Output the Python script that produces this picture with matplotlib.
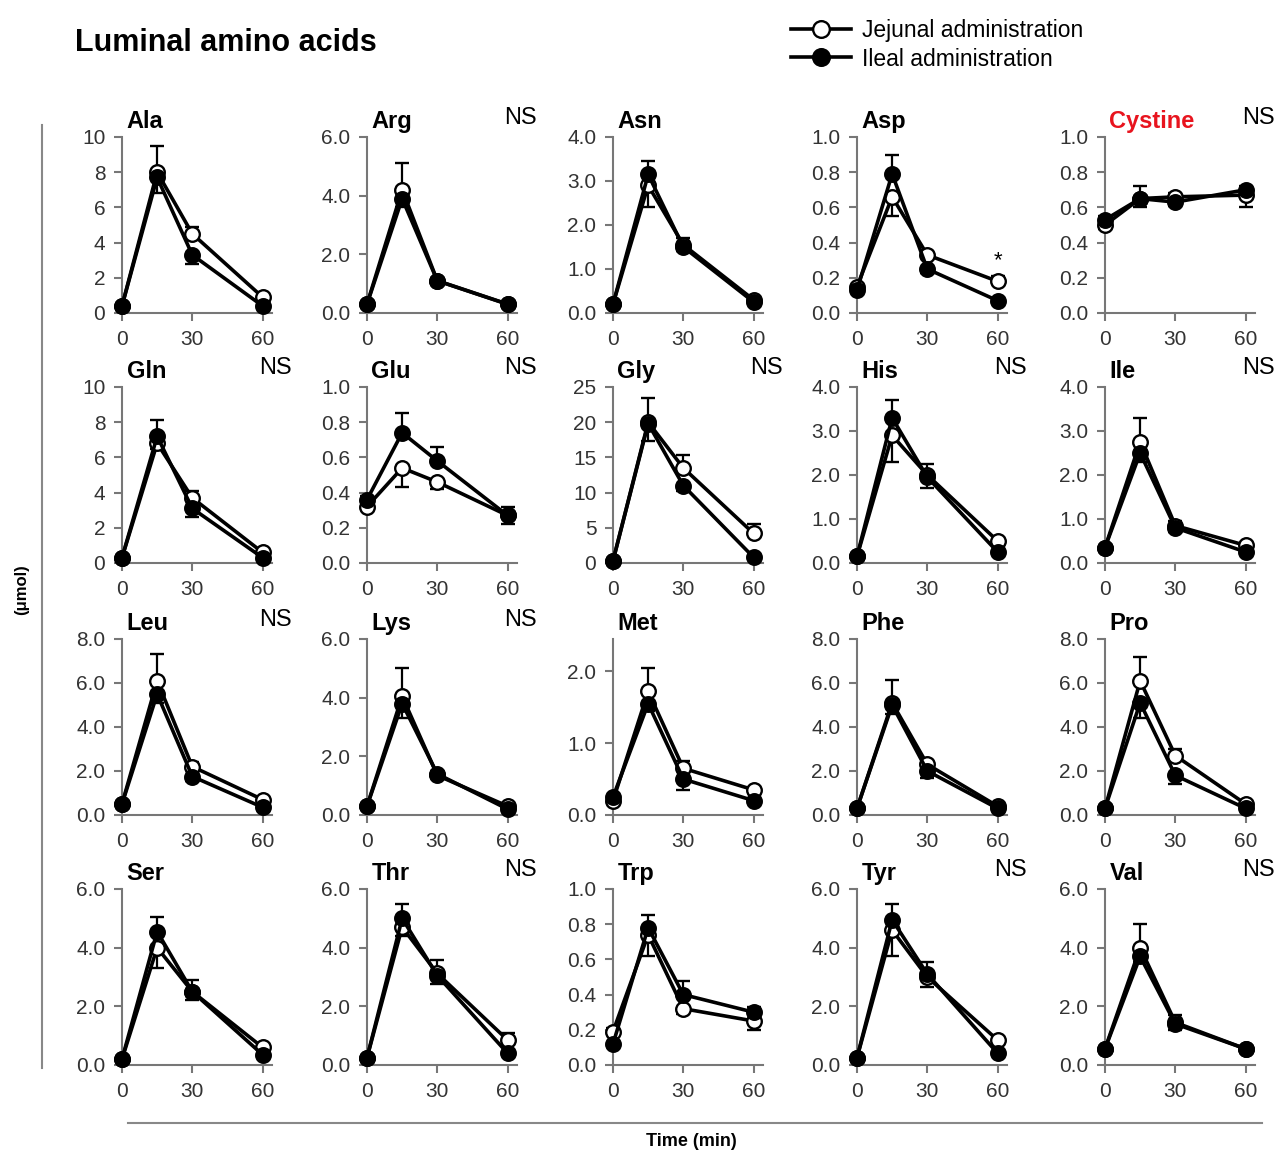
import numpy as np
import matplotlib
matplotlib.use("Agg")
import matplotlib.pyplot as plt
from matplotlib.lines import Line2D

plt.rcParams['font.family'] = ['Liberation Sans', 'DejaVu Sans']

#%% data

times = [0, 15, 30, 60]

names = ["Ala", "Arg", "Asn", "Asp", "Cystine",
         "Gln", "Glu", "Gly", "His", "Ile",
         "Leu", "Lys", "Met", "Phe", "Pro",
         "Ser", "Thr", "Trp", "Tyr", "Val"]

# jejunal administration (open circles)
jej = [[0.4, 8.0, 4.5, 0.9], [0.3, 4.2, 1.1, 0.3], [0.2, 2.9, 1.55, 0.3], [0.15, 0.66, 0.33, 0.18], [0.50, 0.65, 0.66, 0.67],
       [0.3, 6.8, 3.7, 0.6], [0.32, 0.54, 0.46, 0.27], [0.3, 20.0, 13.5, 4.2], [0.15, 2.9, 2.0, 0.5], [0.35, 2.75, 0.85, 0.4],
       [0.5, 6.1, 2.2, 0.7], [0.3, 4.05, 1.35, 0.3], [0.2, 1.72, 0.65, 0.35], [0.3, 5.1, 2.3, 0.4], [0.3, 6.1, 2.7, 0.5],
       [0.2, 4.0, 2.5, 0.6], [0.25, 4.7, 3.12, 0.85], [0.19, 0.74, 0.32, 0.25], [0.25, 4.6, 3.0, 0.85], [0.55, 4.0, 1.45, 0.55]]

# ileal administration (filled circles)
ile = [[0.4, 7.7, 3.3, 0.4], [0.3, 3.9, 1.1, 0.3], [0.2, 3.15, 1.5, 0.25], [0.13, 0.79, 0.25, 0.07], [0.53, 0.65, 0.63, 0.70],
       [0.3, 7.2, 3.1, 0.3], [0.36, 0.74, 0.58, 0.27], [0.3, 19.8, 11.0, 0.8], [0.15, 3.3, 1.95, 0.25], [0.35, 2.5, 0.8, 0.25],
       [0.5, 5.5, 1.75, 0.35], [0.3, 3.8, 1.4, 0.2], [0.25, 1.55, 0.5, 0.2], [0.3, 5.0, 2.0, 0.3], [0.3, 5.1, 1.8, 0.3],
       [0.2, 4.55, 2.5, 0.35], [0.25, 5.0, 3.05, 0.4], [0.12, 0.78, 0.40, 0.30], [0.25, 4.95, 3.1, 0.4], [0.55, 3.7, 1.4, 0.55]]

jej_err = [[0, 1.5, 0.4, 0.15], [0, 0.9, 0.1, 0.05], [0, 0.5, 0.15, 0.05], [0, 0.11, 0.02, 0.03], [0.02, 0.07, 0.02, 0.07],
           [0, 0.3, 0.4, 0.1], [0.02, 0.11, 0.04, 0.05], [0, 3.5, 1.8, 1.3], [0, 0.6, 0.25, 0.05], [0, 0.55, 0.1, 0.05],
           [0, 1.2, 0.2, 0.1], [0, 0.95, 0.1, 0.05], [0, 0.33, 0.1, 0.03], [0, 1.05, 0.2, 0.1], [0, 1.1, 0.3, 0.1],
           [0, 0.7, 0.4, 0.1], [0, 0.3, 0.45, 0.25], [0.02, 0.12, 0.03, 0.05], [0, 0.9, 0.35, 0.1], [0, 0.8, 0.25, 0.05]]

ile_err = [[0, 0.9, 0.5, 0.1], [0, 0.3, 0.1, 0.05], [0, 0.3, 0.1, 0.05], [0, 0.11, 0.02, 0.01], [0.02, 0.05, 0.02, 0.02],
           [0, 0.9, 0.5, 0.05], [0.02, 0.11, 0.08, 0.05], [0, 2.5, 0.8, 0.3], [0, 0.4, 0.25, 0.05], [0, 0.2, 0.1, 0.05],
           [0, 0.4, 0.2, 0.1], [0, 0.5, 0.1, 0.05], [0, 0.1, 0.15, 0.03], [0, 0.4, 0.3, 0.05], [0, 0.7, 0.4, 0.05],
           [0, 0.5, 0.3, 0.05], [0, 0.5, 0.3, 0.1], [0.02, 0.07, 0.08, 0.03], [0, 0.55, 0.4, 0.05], [0, 0.2, 0.2, 0.05]]

y_max = [10, 6, 4, 1, 1,
         10, 1, 25, 4, 4,
         8, 6, 2.45, 8, 8,
         6, 6, 1, 6, 6]

y_step = [2, 2, 1, 0.2, 0.2,
          2, 0.2, 5, 1, 1,
          2, 2, 1, 2, 2,
          2, 2, 0.2, 2, 2]

int_labels = ["Ala", "Gln", "Gly"]

ns_panels = ["Arg", "Cystine", "Gln", "Glu", "Gly", "His", "Ile",
             "Leu", "Lys", "Thr", "Tyr", "Val"]

#%% figure

fig = plt.figure(figsize=(12.8, 11.53), dpi=100)

col_left = [122, 367, 613, 857, 1105]   # px
row_bottom = [313, 563, 815, 1065]      # px
W, H = 1280, 1153
ax_w = 150 / W
ax_h = 176 / H
grey = "#777777"

for k, name in enumerate(names):
    r, c = k // 5, k % 5
    ax = fig.add_axes([col_left[c] / W, 1 - row_bottom[r] / H, ax_w, ax_h])

    j = np.array(jej[k])
    i = np.array(ile[k])
    je = np.array(jej_err[k])
    ie = np.array(ile_err[k])
    # one-sided error bars: upper series goes up, lower series goes down
    j_up = j >= i
    j_yerr = [np.where(j_up, 0, je), np.where(j_up, je, 0)]
    i_yerr = [np.where(j_up, ie, 0), np.where(j_up, 0, ie)]

    ax.errorbar(times, j, yerr=j_yerr, color="black", lw=2.6, ecolor="black",
                elinewidth=1.6, capsize=5, capthick=1.6, marker="o", ms=10.5,
                mfc="white", mec="black", mew=1.7, clip_on=False, zorder=3)
    ax.errorbar(times, i, yerr=i_yerr, color="black", lw=2.6, ecolor="black",
                elinewidth=1.6, capsize=5, capthick=1.6, marker="o", ms=10.5,
                mfc="black", mec="black", mew=1.7, clip_on=False, zorder=4)

    ax.set_xlim(0, 64)
    ax.set_ylim(0, y_max[k])
    ticks = np.arange(0, y_max[k] + 1e-6, y_step[k])
    ax.set_yticks(ticks)
    if name in int_labels:
        ax.set_yticklabels(["%d" % t for t in ticks])
    else:
        ax.set_yticklabels(["%.1f" % t for t in ticks])
    ax.set_xticks([0, 30, 60])

    for s in ["top", "right"]:
        ax.spines[s].set_visible(False)
    for s in ["left", "bottom"]:
        ax.spines[s].set_color(grey)
        ax.spines[s].set_linewidth(1.5)
    ax.tick_params(direction="out", length=6, width=1.5, color=grey,
                   labelsize=15, labelcolor="#333333", pad=6)

    ax.text(0.03, 1.09, name, transform=ax.transAxes, fontsize=17,
            fontweight="bold", ha="left", va="center",
            color="#e8141e" if name == "Cystine" else "black")
    if name in ns_panels:
        ax.text(1.13, 1.11, "NS", transform=ax.transAxes, fontsize=17,
                ha="right", va="center")
    if name == "Asp":
        ax.text(60, j[3] + je[3] + 0.03, "*", fontsize=16, ha="center",
                va="bottom")

#%% labels, lines, legend

fig.text(75 / W, 1 - 43 / H, "Luminal amino acids", fontsize=22,
         fontweight="bold", ha="left", va="center")
fig.text(22 / W, 1 - 590 / H, "(\u03bcmol)", fontsize=12, fontweight="bold",
         rotation=90, ha="center", va="center")
fig.text(691 / W, 1 - 1142 / H, "Time (min)", fontsize=13, fontweight="bold",
         ha="center", va="center")
fig.add_artist(Line2D([42 / W, 42 / W], [1 - 125 / H, 1 - 1068 / H],
                      color="#888888", lw=1.5))
fig.add_artist(Line2D([128 / W, 1262 / W], [1 - 1123 / H, 1 - 1123 / H],
                      color="#888888", lw=1.5))

h1 = Line2D([], [], color="black", lw=2.6, marker="o", ms=12, mfc="white",
            mec="black", mew=1.7)
h2 = Line2D([], [], color="black", lw=2.6, marker="o", ms=12, mfc="black",
            mec="black", mew=1.7)
fig.legend([h1, h2], ["Jejunal administration", "Ileal administration"],
           loc="upper left", bbox_to_anchor=(780 / W, 1 - 8 / H),
           frameon=False, fontsize=16.5, handlelength=2.6, handletextpad=0.5,
           labelspacing=0.22, borderpad=0)

fig.savefig("out.png", dpi=100)
